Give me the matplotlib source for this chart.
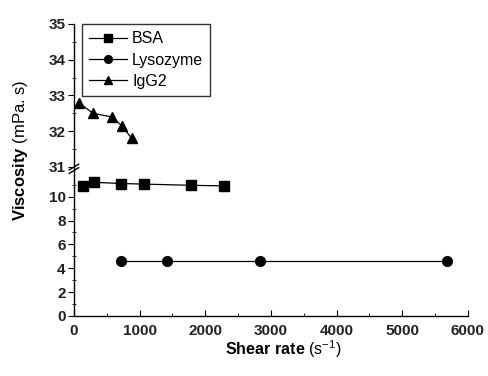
import matplotlib
matplotlib.use("Agg")
import matplotlib.pyplot as plt
from matplotlib.ticker import MultipleLocator, FixedLocator

plt.rcParams['font.family'] = ['Liberation Sans', 'DejaVu Sans']
plt.rcParams['mathtext.fontset'] = 'custom'
plt.rcParams['mathtext.rm'] = 'Liberation Sans'
plt.rcParams['mathtext.bf'] = 'Liberation Sans:bold'

# data
bsa_x = [140, 300, 720, 1070, 1780, 2290]
bsa_y = [10.85, 11.2, 11.1, 11.05, 10.95, 10.9]
lys_x = [710, 1420, 2840, 5680]
lys_y = [4.6, 4.6, 4.6, 4.6]
igg_x = [70, 290, 580, 730, 880]
igg_y = [32.8, 32.5, 32.4, 32.15, 31.8]

fig = plt.figure(figsize=(4.88, 3.76), dpi=100)
ax_lo = fig.add_axes([0.1516, 0.1596, 0.807, 0.3936])
ax_hi = fig.add_axes([0.1516, 0.5559, 0.807, 0.3803], sharex=ax_lo)

kw = dict(color='black', lw=0.9, markersize=7)
for ax in (ax_lo, ax_hi):
    ax.plot(bsa_x, bsa_y, marker='s', label='BSA', **kw)
    ax.plot(lys_x, lys_y, marker='o', label='Lysozyme', **kw)
    ax.plot(igg_x, igg_y, marker='^', label='IgG2', **kw)
    for s in ('top', 'right'):
        ax.spines[s].set_visible(False)
    ax.patch.set_alpha(0)
    for s in ax.spines.values():
        s.set_linewidth(1.0)

ax_lo.set_xlim(0, 6000)
ax_lo.set_ylim(0, 12.4)
ax_hi.set_ylim(31, 35)
ax_hi.spines['bottom'].set_visible(False)
ax_hi.tick_params(axis='x', which='both', bottom=False, labelbottom=False)

ax_lo.xaxis.set_major_locator(MultipleLocator(1000))
ax_lo.xaxis.set_minor_locator(MultipleLocator(500))
ax_lo.yaxis.set_major_locator(FixedLocator([0, 2, 4, 6, 8, 10]))
ax_lo.yaxis.set_minor_locator(FixedLocator([1, 3, 5, 7, 9, 11]))
ax_hi.yaxis.set_major_locator(MultipleLocator(1))
ax_hi.yaxis.set_minor_locator(MultipleLocator(0.5))

ax_lo.tick_params(axis='x', which='major', direction='in', length=4, labelsize=11, pad=6)
ax_lo.tick_params(axis='x', which='minor', direction='in', length=2.5)
for ax in (ax_lo, ax_hi):
    ax.tick_params(axis='y', which='major', direction='out', length=4, labelsize=11, pad=2)
    ax.tick_params(axis='y', which='minor', direction='inout', length=3)
    for lab in ax.get_xticklabels() + ax.get_yticklabels():
        lab.set_fontweight('bold')
        lab.set_color('#222222')

# break marks on the left spine
d = 0.012
ax_hi.plot([-d, d], [-0.02, 0.02], transform=ax_hi.transAxes, color='black', lw=1, clip_on=False)
ax_hi.plot([-d, d], [-0.045, -0.005], transform=ax_hi.transAxes, color='black', lw=1, clip_on=False)

leg = ax_hi.legend(loc='upper left', bbox_to_anchor=(0.02, 1.0), borderaxespad=0, fontsize=11.5,
                   frameon=True, fancybox=False, edgecolor='black', handlelength=2.4,
                   borderpad=0.45, labelspacing=0.4, handletextpad=0.3, markerscale=0.8)
leg.get_frame().set_linewidth(1.0)

fig.text(0.581, 1 - 349 / 376, r'$\mathbf{Shear\ rate}$ (s$^{-1}$)', ha='center', va='center', fontsize=11.5)
fig.text(0.041, 1 - 150 / 376, r'$\mathbf{Viscosity}$ (mPa. s)', ha='center', va='center',
         rotation=90, fontsize=12)

fig.savefig('out.png', dpi=100)
